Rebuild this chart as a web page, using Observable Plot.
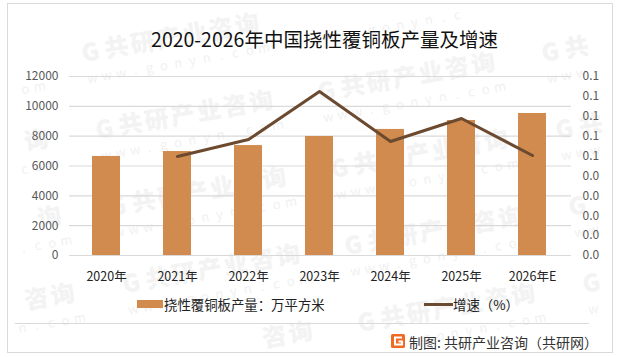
<!DOCTYPE html>
<html><head><meta charset="utf-8">
<script src="https://cdn.jsdelivr.net/npm/d3@7"></script>
<script src="https://cdn.jsdelivr.net/npm/@observablehq/plot@0.6"></script>
<style>
html,body{margin:0;padding:0;background:#fff;width:617px;height:357px;overflow:hidden}
body{font-family:"Noto Sans CJK SC","Noto Sans",sans-serif;position:relative}
#frame{position:absolute;left:7px;top:3px;width:604px;height:348px;border:1px solid #d9d9d9;overflow:hidden;box-sizing:content-box}
#wm{position:absolute;left:-8px;top:-4px;width:617px;height:357px;overflow:hidden}
.w{position:absolute;transform-origin:0 0;transform:rotate(-10deg);white-space:nowrap;line-height:1}
.w span{display:inline-block;text-align:center}
.w.a{font-size:24px;font-weight:900;color:#f3f3f3}
.w.b{font-size:13px;color:#f1f1f1}
#title{position:absolute;left:29px;right:0;top:20px;text-align:center;font-size:19.5px;line-height:30px;color:#111}
#chart{position:absolute;left:-8px;top:56px;width:617px}
#chart svg{background:none;display:block;max-width:none}
#legend{position:absolute;left:7px;width:574px;top:286px;height:33px;border-bottom:1px solid #d9d9d9;font-size:13.4px;color:#222}
.sw{position:absolute}
.lt{position:absolute;top:4px;line-height:20px;white-space:nowrap}
#foot{position:absolute;left:401px;top:328px;line-height:20px;font-size:14px;color:#333;white-space:nowrap}
#logo{position:absolute;left:383px;top:330px}
</style></head><body>
<div id="frame">
  <div id="wm"></div>
  <div id="title">2020-2026年中国挠性覆铜板产量及增速</div>
  <div id="chart"></div>
  <div id="legend">
    <div class="sw" style="left:122px;top:10px;width:26px;height:8px;background:#d18b4e"></div>
    <div class="lt" style="left:149px">挠性覆铜板产量：万平方米</div>
    <div class="sw" style="left:409px;top:13px;width:29px;height:3px;background:#6b4a30"></div>
    <div class="lt" style="left:438px">增速（%）</div>
  </div>
  <svg id="logo" width="14" height="14" viewBox="0 0 14 14">
    <rect width="14" height="14" rx="1.5" fill="#f26a21"/>
    <path d="M11 3.5H4v7h7V7.5H7.5" fill="none" stroke="#fff" stroke-width="2"/>
  </svg>
  <div id="foot">制图: 共研产业咨询（共研网）</div>
</div>
<script>
const years = ["2020年","2021年","2022年","2023年","2024年","2025年","2026年E"];
const output = [6640,6970,7370,7980,8450,9050,9520];
const growth = [null,0.0498,0.0583,0.0825,0.0573,0.0689,0.0503];
const leftTicks = [0,2000,4000,6000,8000,10000,12000];
const rightTicks = [0,0.01,0.02,0.03,0.04,0.05,0.06,0.07,0.08,0.09];

const yMax = 12000, gMax = 0.09;
const toLeft = g => g * yMax / gMax;
const rows = years.map((year,i)=>({year,output:output[i],growth:growth[i]}));
const lineRows = rows.filter(d=>d.growth!=null);

const plot = Plot.plot({
  width:617, height:230,
  marginTop:16, marginBottom:35, marginLeft:69, marginRight:46,
  style:{background:"none",fontFamily:'"Noto Sans CJK SC","Noto Sans",sans-serif'},
  x:{domain:years,range:[68,570],paddingInner:0.6,paddingOuter:0.3,label:null},
  y:{domain:[0,yMax],label:null},
  marks:[
    Plot.ruleY(leftTicks,{stroke:"#d9d9d9",strokeWidth:1.2}),
    Plot.axisX({tickSize:0,tickPadding:17,fontSize:12.5,color:"#222",label:null}),
    Plot.axisY({ticks:leftTicks,tickSize:0,tickPadding:11,fontSize:12,color:"#595959",label:null,tickFormat:d=>String(d)}),
    Plot.axisY({anchor:"right",ticks:rightTicks.map(toLeft),tickSize:0,tickPadding:11,fontSize:12,color:"#595959",label:null,
      tickFormat:d=>(d*gMax/yMax).toFixed(1)}),
    Plot.barY(rows,{x:"year",y:"output",fill:"#d18b4e"}),
    Plot.line(lineRows,{x:"year",y:d=>toLeft(d.growth),stroke:"#6b4a30",strokeWidth:3,strokeLinecap:"round",strokeLinejoin:"round"})
  ]
});
document.getElementById("chart").appendChild(plot);

// Faint repeating watermark: only the characters that lie wholly inside the frame are kept.
const wm = document.getElementById("wm");
const cos = Math.cos(10*Math.PI/180), sin = Math.sin(10*Math.PI/180);
function run(text, adv, h, x, y, cls){
  const chars = [...text];
  const fits = chars.map((_,i)=>{
    const px = x + i*adv*cos, py = y - i*adv*sin;
    return px>=9 && px+adv*cos+h*sin<=610 && py-adv*sin>=5 && py+h*cos<=350;
  });
  const first = fits.indexOf(true), last = fits.lastIndexOf(true);
  if(first<0) return;
  const el = document.createElement("div");
  el.className = "w "+cls;
  el.style.left = (x+first*adv*cos)+"px";
  el.style.top = (y-first*adv*sin)+"px";
  for(let i=first;i<=last;i++){
    const s = document.createElement("span");
    s.style.width = adv+"px";
    s.textContent = chars[i];
    el.appendChild(s);
  }
  wm.appendChild(el);
}
for(let c=0;c<4;c++){
  const odd = c%2===1;
  for(let r=0;r<5;r++){
    const x = -163 + 230*c + (odd?8:0) + 13.5*r;
    const y = (odd?53:15) + 77*r - 12;
    run("G共研产业咨询",26.5,24,x,y,"a");
    run("www.gonyn.com",14.5,13,x+9,y+31,"b");
  }
}
</script>
</body></html>
